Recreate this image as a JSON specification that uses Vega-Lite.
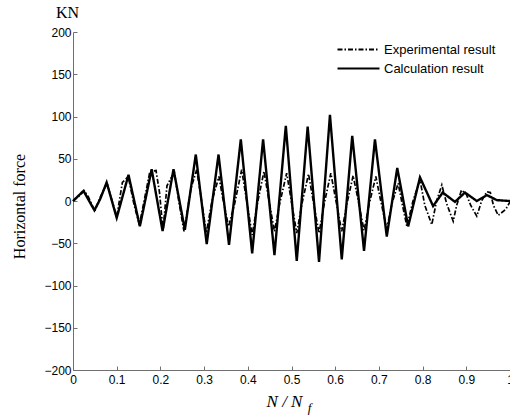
{
  "$schema": "https://vega.github.io/schema/vega-lite/v6.json",
  "width": 437,
  "height": 338,
  "autosize": {"type": "none"},
  "padding": {"left": 73, "top": 32, "right": 0, "bottom": 46},
  "background": "white",
  "title": {"text": "KN", "anchor": "start", "frame": "group", "font": "Liberation Serif", "fontSize": 16, "fontWeight": "normal", "color": "black", "dx": -17, "offset": 5},
  "config": {
    "view": {"stroke": null},
    "axis": {"grid": false, "domainColor": "#707070", "tickColor": "#707070", "labelColor": "black", "labelFont": "Liberation Sans", "labelFontSize": 12, "tickSize": -4, "titleColor": "black", "titleFont": "Liberation Serif", "titleFontWeight": "normal", "titleFontSize": 16}
  },
  "data": {"values": [
    {"n":0,"force":0,"series":"Experimental result"},
    {"n":0.012,"force":5,"series":"Experimental result"},
    {"n":0.026,"force":12,"series":"Experimental result"},
    {"n":0.035,"force":5,"series":"Experimental result"},
    {"n":0.05,"force":-12,"series":"Experimental result"},
    {"n":0.06,"force":2,"series":"Experimental result"},
    {"n":0.078,"force":21,"series":"Experimental result"},
    {"n":0.1,"force":-19,"series":"Experimental result"},
    {"n":0.113,"force":22,"series":"Experimental result"},
    {"n":0.123,"force":27,"series":"Experimental result"},
    {"n":0.128,"force":25,"series":"Experimental result"},
    {"n":0.14,"force":-5,"series":"Experimental result"},
    {"n":0.152,"force":-28,"series":"Experimental result"},
    {"n":0.176,"force":35,"series":"Experimental result"},
    {"n":0.19,"force":36,"series":"Experimental result"},
    {"n":0.198,"force":10,"series":"Experimental result"},
    {"n":0.206,"force":-35,"series":"Experimental result"},
    {"n":0.215,"force":18,"series":"Experimental result"},
    {"n":0.222,"force":25,"series":"Experimental result"},
    {"n":0.232,"force":34,"series":"Experimental result"},
    {"n":0.242,"force":0,"series":"Experimental result"},
    {"n":0.254,"force":-36,"series":"Experimental result"},
    {"n":0.27,"force":15,"series":"Experimental result"},
    {"n":0.283,"force":37,"series":"Experimental result"},
    {"n":0.292,"force":8,"series":"Experimental result"},
    {"n":0.305,"force":-38,"series":"Experimental result"},
    {"n":0.318,"force":0,"series":"Experimental result"},
    {"n":0.334,"force":29,"series":"Experimental result"},
    {"n":0.342,"force":5,"series":"Experimental result"},
    {"n":0.356,"force":-30,"series":"Experimental result"},
    {"n":0.37,"force":-3,"series":"Experimental result"},
    {"n":0.386,"force":37,"series":"Experimental result"},
    {"n":0.395,"force":8,"series":"Experimental result"},
    {"n":0.41,"force":-40,"series":"Experimental result"},
    {"n":0.422,"force":-3,"series":"Experimental result"},
    {"n":0.437,"force":35,"series":"Experimental result"},
    {"n":0.447,"force":5,"series":"Experimental result"},
    {"n":0.461,"force":-36,"series":"Experimental result"},
    {"n":0.473,"force":-3,"series":"Experimental result"},
    {"n":0.489,"force":33,"series":"Experimental result"},
    {"n":0.498,"force":5,"series":"Experimental result"},
    {"n":0.512,"force":-38,"series":"Experimental result"},
    {"n":0.524,"force":-3,"series":"Experimental result"},
    {"n":0.539,"force":32,"series":"Experimental result"},
    {"n":0.548,"force":5,"series":"Experimental result"},
    {"n":0.563,"force":-38,"series":"Experimental result"},
    {"n":0.575,"force":-3,"series":"Experimental result"},
    {"n":0.59,"force":33,"series":"Experimental result"},
    {"n":0.6,"force":5,"series":"Experimental result"},
    {"n":0.615,"force":-36,"series":"Experimental result"},
    {"n":0.627,"force":-3,"series":"Experimental result"},
    {"n":0.641,"force":30,"series":"Experimental result"},
    {"n":0.651,"force":5,"series":"Experimental result"},
    {"n":0.666,"force":-35,"series":"Experimental result"},
    {"n":0.678,"force":-3,"series":"Experimental result"},
    {"n":0.693,"force":29,"series":"Experimental result"},
    {"n":0.703,"force":3,"series":"Experimental result"},
    {"n":0.718,"force":-33,"series":"Experimental result"},
    {"n":0.73,"force":-3,"series":"Experimental result"},
    {"n":0.744,"force":21,"series":"Experimental result"},
    {"n":0.752,"force":0,"series":"Experimental result"},
    {"n":0.764,"force":-30,"series":"Experimental result"},
    {"n":0.778,"force":0,"series":"Experimental result"},
    {"n":0.794,"force":25,"series":"Experimental result"},
    {"n":0.805,"force":-5,"series":"Experimental result"},
    {"n":0.821,"force":-28,"series":"Experimental result"},
    {"n":0.832,"force":0,"series":"Experimental result"},
    {"n":0.844,"force":19,"series":"Experimental result"},
    {"n":0.855,"force":-3,"series":"Experimental result"},
    {"n":0.87,"force":-24,"series":"Experimental result"},
    {"n":0.878,"force":-5,"series":"Experimental result"},
    {"n":0.889,"force":13,"series":"Experimental result"},
    {"n":0.9,"force":8,"series":"Experimental result"},
    {"n":0.91,"force":-5,"series":"Experimental result"},
    {"n":0.924,"force":-18,"series":"Experimental result"},
    {"n":0.935,"force":0,"series":"Experimental result"},
    {"n":0.947,"force":11,"series":"Experimental result"},
    {"n":0.955,"force":10,"series":"Experimental result"},
    {"n":0.962,"force":-5,"series":"Experimental result"},
    {"n":0.973,"force":-17,"series":"Experimental result"},
    {"n":0.99,"force":-10,"series":"Experimental result"},
    {"n":1.0,"force":-1,"series":"Experimental result"},
    {"n":0,"force":0,"series":"Calculation result"},
    {"n":0.024,"force":12,"series":"Calculation result"},
    {"n":0.049,"force":-11,"series":"Calculation result"},
    {"n":0.062,"force":2,"series":"Calculation result"},
    {"n":0.077,"force":22,"series":"Calculation result"},
    {"n":0.1,"force":-20,"series":"Calculation result"},
    {"n":0.127,"force":31,"series":"Calculation result"},
    {"n":0.153,"force":-30,"series":"Calculation result"},
    {"n":0.18,"force":37.5,"series":"Calculation result"},
    {"n":0.205,"force":-35.5,"series":"Calculation result"},
    {"n":0.23,"force":37.5,"series":"Calculation result"},
    {"n":0.256,"force":-34,"series":"Calculation result"},
    {"n":0.281,"force":55,"series":"Calculation result"},
    {"n":0.306,"force":-51,"series":"Calculation result"},
    {"n":0.333,"force":55,"series":"Calculation result"},
    {"n":0.357,"force":-52,"series":"Calculation result"},
    {"n":0.384,"force":73,"series":"Calculation result"},
    {"n":0.41,"force":-62,"series":"Calculation result"},
    {"n":0.435,"force":73,"series":"Calculation result"},
    {"n":0.461,"force":-64,"series":"Calculation result"},
    {"n":0.487,"force":89,"series":"Calculation result"},
    {"n":0.512,"force":-71,"series":"Calculation result"},
    {"n":0.537,"force":88,"series":"Calculation result"},
    {"n":0.563,"force":-72,"series":"Calculation result"},
    {"n":0.588,"force":102,"series":"Calculation result"},
    {"n":0.615,"force":-69,"series":"Calculation result"},
    {"n":0.639,"force":77,"series":"Calculation result"},
    {"n":0.666,"force":-59,"series":"Calculation result"},
    {"n":0.691,"force":73,"series":"Calculation result"},
    {"n":0.718,"force":-42,"series":"Calculation result"},
    {"n":0.742,"force":39,"series":"Calculation result"},
    {"n":0.767,"force":-30,"series":"Calculation result"},
    {"n":0.794,"force":28,"series":"Calculation result"},
    {"n":0.824,"force":-6,"series":"Calculation result"},
    {"n":0.846,"force":10,"series":"Calculation result"},
    {"n":0.874,"force":-1,"series":"Calculation result"},
    {"n":0.897,"force":10,"series":"Calculation result"},
    {"n":0.924,"force":0,"series":"Calculation result"},
    {"n":0.947,"force":7,"series":"Calculation result"},
    {"n":0.97,"force":1,"series":"Calculation result"},
    {"n":1.0,"force":0,"series":"Calculation result"}
  ]},
  "layer": [
    {
      "transform": [{"filter": "datum.series === 'Experimental result'"}],
      "mark": {"type": "line", "color": "black", "strokeWidth": 1.7},
      "encoding": {
        "x": {"field": "n", "type": "quantitative", "scale": {"domain": [0, 1], "nice": false, "zero": false},
              "axis": {"orient": "bottom", "values": [0,0.1,0.2,0.3,0.4,0.5,0.6,0.7,0.8,0.9,1], "format": "~g", "labelPadding": 8, "labelFlush": false, "labelOverlap": false, "title": "N / N", "titleFontStyle": "italic", "titleFontSize": 17, "titleX": 211, "titleY": 36, "titleBaseline": "alphabetic"}},
        "y": {"field": "force", "type": "quantitative", "scale": {"domain": [-200, 200], "nice": false},
              "axis": {"values": [-200,-150,-100,-50,0,50,100,150,200], "labelPadding": 6, "labelOverlap": false, "labelFlush": false, "title": "Horizontal force", "titleX": -54, "titleY": 174, "titleBaseline": "middle", "titleAngle": -90}},
        "strokeDash": {"field": "series", "type": "nominal",
          "scale": {"domain": ["Experimental result", "Calculation result"], "range": [[5,2,1.5,2],[1,0]]},
          "legend": {"title": null, "orient": "none", "legendX": 274, "legendY": 6, "padding": 0, "symbolType": "M-2,0L2,0", "symbolSize": 441, "symbolStrokeColor": "black", "symbolStrokeWidth": 1.8, "labelFont": "Liberation Sans", "labelFontSize": 13, "labelColor": "black", "labelOffset": 14, "rowPadding": -2}}
      }
    },
    {
      "transform": [{"filter": "datum.series === 'Calculation result'"}],
      "mark": {"type": "line", "color": "black", "strokeWidth": 2.4},
      "encoding": {
        "x": {"field": "n", "type": "quantitative",
              "axis": {"orient": "bottom", "labels": false, "ticks": false, "domain": false, "title": "f", "titleFontStyle": "italic", "titleFontSize": 13, "titleX": 236, "titleY": 41, "titleBaseline": "alphabetic"}},
        "y": {"field": "force", "type": "quantitative"},
        "strokeDash": {"field": "series", "type": "nominal"}
      }
    }
  ],
  "resolve": {"axis": {"x": "independent"}}
}
